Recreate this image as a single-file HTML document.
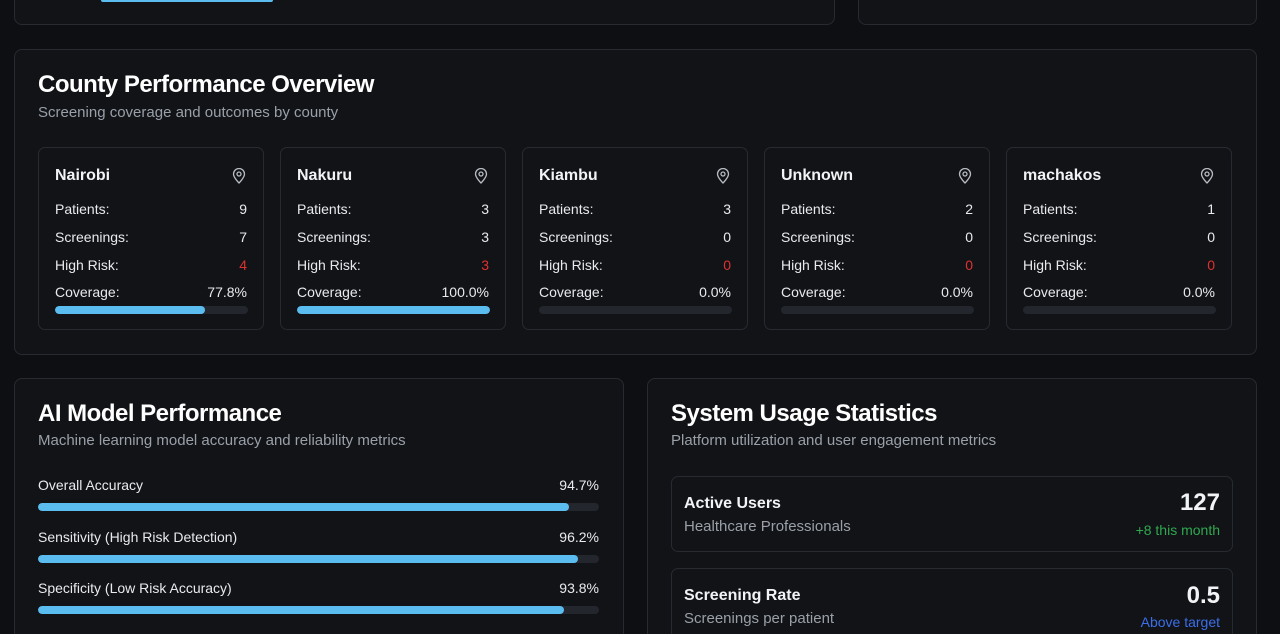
<!DOCTYPE html>
<html><head><meta charset="utf-8">
<style>
*{box-sizing:border-box;margin:0;padding:0}
html,body{width:1280px;height:634px;overflow:hidden}
body{background:#0d0f13;font-family:"Liberation Sans",sans-serif;color:#f1f3f5}
#wrap{position:relative;width:1280px;height:634px;overflow:hidden}
.card{position:absolute;border:1px solid #272a31;border-radius:8px;background:#111317}
.h{position:absolute;font-weight:bold;font-size:24px;letter-spacing:-0.5px;color:#fff}
.sub{position:absolute;font-size:15px;color:#9aa0a8}
.cc{position:absolute;border:1px solid #272a31;border-radius:7px;background:#111317}
.row{position:absolute;left:16px;right:16px;font-size:14px;display:flex;justify-content:space-between;color:#e8eaed}
.track{position:absolute;background:#23262c;border-radius:4px;overflow:hidden}
.fill{height:100%;background:#5bbcf0;border-radius:4px}
.stat{position:absolute;border:1px solid #272a31;border-radius:7px;background:#111317}
</style></head><body><div id="wrap">
<div class="card" style="left:14px;top:-20px;width:821px;height:45px"></div>
<div style="position:absolute;left:101px;top:-2px;width:172px;height:4px;background:#5bbcf0;border-radius:2px"></div>
<div class="card" style="left:858px;top:-20px;width:399px;height:45px"></div>

<div class="card" style="left:14px;top:49px;width:1243px;height:306px"></div>
<div class="h" style="left:38px;top:71px">County Performance Overview</div>
<div class="sub" style="left:38px;top:104px">Screening coverage and outcomes by county</div>
<div id="counties"></div>

<div class="card" style="left:14px;top:378px;width:610px;height:280px"></div>
<div class="h" style="left:38px;top:400px">AI Model Performance</div>
<div class="sub" style="left:38px;top:432px">Machine learning model accuracy and reliability metrics</div>
<div id="metrics"></div>

<div class="card" style="left:647px;top:378px;width:610px;height:280px"></div>
<div class="h" style="left:671px;top:400px">System Usage Statistics</div>
<div class="sub" style="left:671px;top:432px">Platform utilization and user engagement metrics</div>

<div class="stat" style="left:671px;top:476px;width:562px;height:76px">
<div style="position:absolute;left:12px;top:18px;font-size:16px;font-weight:bold">Active Users</div>
<div style="position:absolute;left:12px;top:41px;font-size:15px;color:#9aa0a8">Healthcare Professionals</div>
<div style="position:absolute;right:12px;top:12px;font-size:24px;font-weight:bold">127</div>
<div style="position:absolute;right:12px;top:45px;font-size:14px;color:#2fa84f">+8 this month</div>
</div>
<div class="stat" style="left:671px;top:568px;width:562px;height:76px">
<div style="position:absolute;left:12px;top:18px;font-size:16px;font-weight:bold">Screening Rate</div>
<div style="position:absolute;left:12px;top:41px;font-size:15px;color:#9aa0a8">Screenings per patient</div>
<div style="position:absolute;right:12px;top:13px;font-size:24px;font-weight:bold">0.5</div>
<div style="position:absolute;right:12px;top:45px;font-size:14px;color:#3b6ee8">Above target</div>
</div>
</div>
<script>
const countyNames=["Nairobi","Nakuru","Kiambu","Unknown","machakos"];
const patients=[9,3,3,2,1];
const screenings=[7,3,0,0,0];
const highRisk=[4,3,0,0,0];
const coverage=[77.8,100.0,0.0,0.0,0.0];

const metricLabels=["Overall Accuracy","Sensitivity (High Risk Detection)","Specificity (Low Risk Accuracy)","Positive Predictive Value"];
const metricValues=[94.7,96.2,93.8,89.1];

const cRoot=document.getElementById('counties');
const lefts=[38,280,522,764,1006];
countyNames.forEach((n,i)=>{
  const c=document.createElement('div');
  c.className='cc';
  
  
  c.style.cssText=`left:${lefts[i]}px;top:147px;width:226px;height:183px`;
  c.innerHTML=`<div style="position:absolute;left:16px;top:19px;font-size:16px;font-weight:bold">${n}</div>
  <svg style="position:absolute;right:17px;top:20px" width="14" height="16" viewBox="0 0 14 16"><path d="M7 15C7 15 12.5 9.5 12.5 6A5.5 5.5 0 0 0 1.5 6C1.5 9.5 7 15 7 15Z" fill="none" stroke="#b8bcc2" stroke-width="1.3"/><circle cx="7" cy="6" r="2" fill="none" stroke="#b8bcc2" stroke-width="1.3"/></svg>
  <div class="row" style="top:53px"><span>Patients:</span><span>${patients[i]}</span></div>
  <div class="row" style="top:81px"><span>Screenings:</span><span>${screenings[i]}</span></div>
  <div class="row" style="top:109px"><span>High Risk:</span><span style="color:#e03131">${highRisk[i]}</span></div>
  <div class="row" style="top:136px"><span>Coverage:</span><span>${coverage[i].toFixed(1)}%</span></div>`;
  const t=document.createElement('div');
  t.className='track';
  
  
  t.style.cssText='left:16px;top:158px;width:193px;height:8px';
  const f=document.createElement('div');f.className='fill';
  
  
  f.style.width=(coverage[i]/100*193)+'px';
  t.appendChild(f);c.appendChild(t);
  cRoot.appendChild(c);
});

const mRoot=document.getElementById('metrics');
metricLabels.forEach((l,i)=>{
  const y=477+i*51.5;
  const r=document.createElement('div');
  
  
  r.style.cssText=`position:absolute;left:38px;top:${y}px;width:561px;font-size:14px;display:flex;justify-content:space-between;color:#e8eaed`;
  r.innerHTML=`<span>${l}</span><span>${metricValues[i].toFixed(1)}%</span>`;
  mRoot.appendChild(r);
  const t=document.createElement('div');t.className='track';
  
  
  t.style.cssText=`left:38px;top:${y+26}px;width:561px;height:8px`;
  const f=document.createElement('div');f.className='fill';
  
  
  f.style.width=(metricValues[i]/100*561)+'px';
  t.appendChild(f);mRoot.appendChild(t);
});
</script>
</body></html>
